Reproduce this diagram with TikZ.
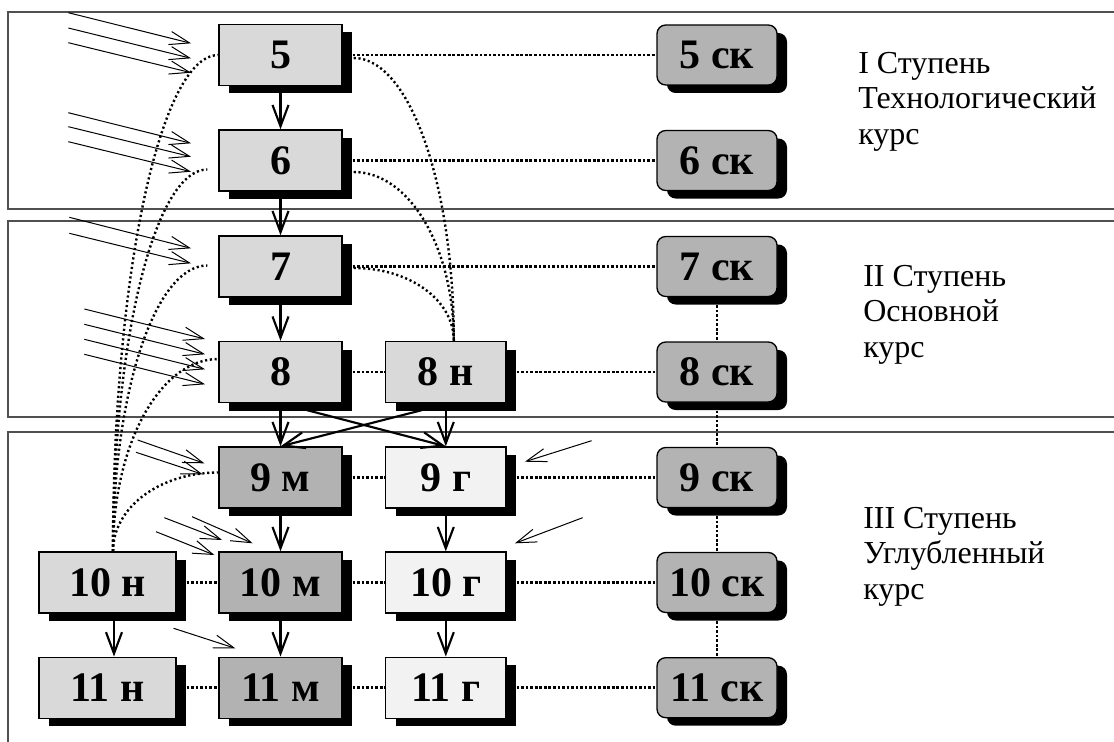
\documentclass[tikz,border=0pt]{standalone}
\usepackage{fontspec}
\setmainfont{Liberation Serif}
\usetikzlibrary{arrows.meta,shadows,calc}
\definecolor{lightg}{HTML}{D9D9D9}
\definecolor{midg}{HTML}{B2B2B2}
\definecolor{paleg}{HTML}{F2F2F2}
\definecolor{skg}{HTML}{B3B3B3}
\definecolor{bandc}{HTML}{505050}
\begin{document}
\begin{tikzpicture}[x=0.75pt,y=-0.75pt,
  box/.style={draw=black, line width=1pt, minimum width=92.25pt, minimum height=45.75pt,
    inner sep=0pt, font=\fontsize{31.5}{34}\selectfont\bfseries,
    drop shadow={shadow xshift=7.5pt, shadow yshift=-6pt, opacity=1, fill=black}},
  lgbox/.style={box, fill=lightg},
  mbox/.style={box, fill=midg},
  gbox/.style={box, fill=paleg, minimum width=90.4pt},
  nbox/.style={box, fill=lightg, minimum width=102.75pt},
  skbox/.style={box, fill=skg, rounded corners=6.5pt, minimum width=90pt, minimum height=45pt},
  band/.style={draw=bandc, line width=0.8pt},
  stage/.style={anchor=north west, inner sep=0pt, align=left, font=\fontsize{24}{26.5}\selectfont},
  thick/.style={line width=1.6pt, -{Straight Barb[length=16pt,width=12pt,line width=1.6pt]}},
  thin/.style={line width=0.75pt, -{Straight Barb[length=15pt,width=10pt,line width=0.75pt]}},
  hdot/.style={line width=2.1pt, dash pattern=on 2pt off 1.4pt},
  cdot/.style={line width=1.8pt, dash pattern=on 1.6pt off 2pt}
]
\useasboundingbox (0,0) rectangle (1114,742);

% stage bands
\draw[band] (1114,12) -- (8,12) -- (8,209) -- (1114,209);
\draw[band] (1114,221) -- (8,221) -- (8,417) -- (1114,417);
\draw[band] (1114,432) -- (8,432) -- (8,742);

% stage labels
\node[stage] (t1) at (858,52) {I Ступень\\Технологический\\курс};
\node[stage] (t2) at (863,265) {II Ступень\\Основной\\курс};
\node[stage] (t3) at (863,507) {III Ступень\\Углубленный\\курс};

% main column
\node[lgbox] (n5) at (280.5,55) {5};
\node[lgbox] (n6) at (280.5,160.5) {6};
\node[lgbox] (n7) at (280.5,266.5) {7};
\node[lgbox] (n8) at (280.5,372) {8};
\node[mbox] (n9m) at (280.5,477.5) {9 м};
\node[mbox] (n10m) at (280.5,582.5) {10 м};
\node[mbox] (n11m) at (280.5,687.7) {11 м};
% second column
\node[gbox, fill=lightg] (n8n) at (445.8,372) {8 н};
\node[gbox] (n9g) at (445.8,477.5) {9 г};
\node[gbox] (n10g) at (445.8,582.5) {10 г};
\node[gbox] (n11g) at (445.8,687.7) {11 г};
% left column
\node[nbox] (n10n) at (107.5,582.5) {10 н};
\node[nbox] (n11n) at (107.5,687.7) {11 н};
% sk column
\node[skbox] (s5) at (717,55) {5 ск};
\node[skbox] (s6) at (717,160.5) {6 ск};
\node[skbox] (s7) at (717,266.5) {7 ск};
\node[skbox] (s8) at (717,372) {8 ск};
\node[skbox] (s9) at (717,477.5) {9 ск};
\node[skbox] (s10) at (717,582.5) {10 ск};
\node[skbox] (s11) at (717,687.7) {11 ск};

% horizontal dotted links
\draw[hdot] ($(n5.east)+(10,0)$) -- (s5.west);
\draw[hdot] ($(n6.east)+(10,0)$) -- (s6.west);
\draw[hdot] ($(n7.east)+(10,0)$) -- (s7.west);
\draw[hdot] ($(n8.east)+(10,0)$) -- (n8n.west);
\draw[hdot] ($(n8n.east)+(10,0)$) -- (s8.west);
\draw[hdot] ($(n9m.east)+(10,0)$) -- (n9g.west);
\draw[hdot] ($(n9g.east)+(10,0)$) -- (s9.west);
\draw[hdot] ($(n10n.east)+(10,0)$) -- (n10m.west);
\draw[hdot] ($(n10m.east)+(10,0)$) -- (n10g.west);
\draw[hdot] ($(n10g.east)+(10,0)$) -- (s10.west);
\draw[hdot] ($(n11n.east)+(10,0)$) -- (n11m.west);
\draw[hdot] ($(n11m.east)+(10,0)$) -- (n11g.west);
\draw[hdot] ($(n11g.east)+(10,0)$) -- (s11.west);
% vertical dotted links
\draw[hdot] ($(s7.south)+(0,8)$) -- (s8.north);
\draw[hdot] ($(s8.south)+(0,8)$) -- (s9.north);
\draw[hdot] ($(s9.south)+(0,8)$) -- (s10.north);
\draw[hdot] ($(s10.south)+(0,8)$) -- (s11.north);

% dotted curves from 10 н
\draw[cdot] ($(n10n.north)+(5.5,0)$) .. controls +(0,-273) and +(-58.5,0) .. (n5.west);
\draw[cdot] ($(n10n.north)+(5.5,0)$) .. controls +(0,-211) and +(-52.5,0) .. ($(n6.west)+(-11,9)$);
\draw[cdot] ($(n10n.north)+(5.5,0)$) .. controls +(0,-158) and +(-52.5,0) .. ($(n7.west)+(-11,-1)$);
\draw[cdot] ($(n10n.north)+(5.5,0)$) .. controls +(0,-106.5) and +(-58.5,0) .. ($(n8.west)+(0,-13)$);
\draw[cdot] ($(n10n.north)+(5.5,0)$) .. controls +(0,-44) and +(-58.5,0) .. ($(n9m.west)+(0,-5)$);
% dotted curves to 8 н
\draw[cdot] ($(n5.east)+(11,3)$) .. controls +(56,0) and +(0,-156) .. ($(n8n.north)+(8,0)$);
\draw[cdot] ($(n6.east)+(11,11.5)$) .. controls +(56,0) and +(0,-93) .. ($(n8n.north)+(8,0)$);
\draw[cdot] ($(n7.east)+(11,1.5)$) .. controls +(56,0) and +(0,-41) .. ($(n8n.north)+(8,0)$);

% thick vertical arrows
\draw[thick] (n5) -- (n6);
\draw[thick] (n6) -- (n7);
\draw[thick] (n7) -- (n8);
\draw[thick] (n8) -- (n9m);
\draw[thick] (n9m) -- (n10m);
\draw[thick] (n10m) -- (n11m);
\draw[thick] (n8n) -- (n9g);
\draw[thick] (n9g) -- (n10g);
\draw[thick] (n10g) -- (n11g);
\draw[thick] ($(n10n.south)+(6.5,0)$) -- ($(n11n.north)+(6.5,0)$);
% crossing arrows
\draw[thick] ($(n8.south)+(26.5,7)$) -- (n9g.north);
\draw[thick] ($(n8n.south)+(-24,7)$) -- (n9m.north);

% thin incoming arrows
\draw[thin] ($(n5.west)+(-150,-42.3)$) -- ($(n5.west)+(-27.3,-11.7)$);
\draw[thin] ($(n5.west)+(-150,-27)$) -- ($(n5.west)+(-27.3,3.3)$);
\draw[thin] ($(n5.west)+(-150,-12.3)$) -- ($(n5.west)+(-27.3,17.7)$);
\draw[thin] ($(n6.west)+(-150,-47.8)$) -- ($(n6.west)+(-27.3,-17.2)$);
\draw[thin] ($(n6.west)+(-150,-33.8)$) -- ($(n6.west)+(-27.3,-3.8)$);
\draw[thin] ($(n6.west)+(-150,-18.8)$) -- ($(n6.west)+(-27.3,11.2)$);
\draw[thin] ($(n7.west)+(-149,-49.2)$) -- ($(n7.west)+(-27.3,-18.2)$);
\draw[thin] ($(n7.west)+(-149,-33.2)$) -- ($(n7.west)+(-27.3,-3.2)$);
\draw[thin] ($(n8.west)+(-134,-63)$) -- ($(n8.west)+(-13.3,-33)$);
\draw[thin] ($(n8.west)+(-134,-47.7)$) -- ($(n8.west)+(-13.3,-17.7)$);
\draw[thin] ($(n8.west)+(-134,-32.7)$) -- ($(n8.west)+(-13.3,-2.7)$);
\draw[thin] ($(n8.west)+(-134,-17.7)$) -- ($(n8.west)+(-13.3,12.3)$);
\draw[thin] ($(n9m.west)+(-80.7,-37.5)$) -- ($(n9m.west)+(-14,-14.2)$);
\draw[thin] ($(n9m.west)+(-82.3,-25.2)$) -- ($(n9m.west)+(-15.7,-3.2)$);
\draw[thin] ($(n10m.west)+(-54,-64.8)$) -- ($(n10m.west)+(3.7,-42.5)$);
\draw[thin] ($(n10m.west)+(-26.3,-65.8)$) -- ($(n10m.west)+(34.3,-39.2)$);
\draw[thin] ($(n10m.west)+(-62.3,-50.8)$) -- ($(n10m.west)+(-4,-27.5)$);
\draw[thin] ($(n11m.west)+(-44.7,-59.4)$) -- ($(n11m.west)+(17,-39.4)$);
\draw[thin] ($(n9g.east)+(84.9,-36.8)$) -- ($(n9g.east)+(18.2,-15.8)$);
\draw[thin] ($(n10g.east)+(75.9,-64.8)$) -- ($(n10g.east)+(8.2,-39.2)$);
\end{tikzpicture}
\end{document}
